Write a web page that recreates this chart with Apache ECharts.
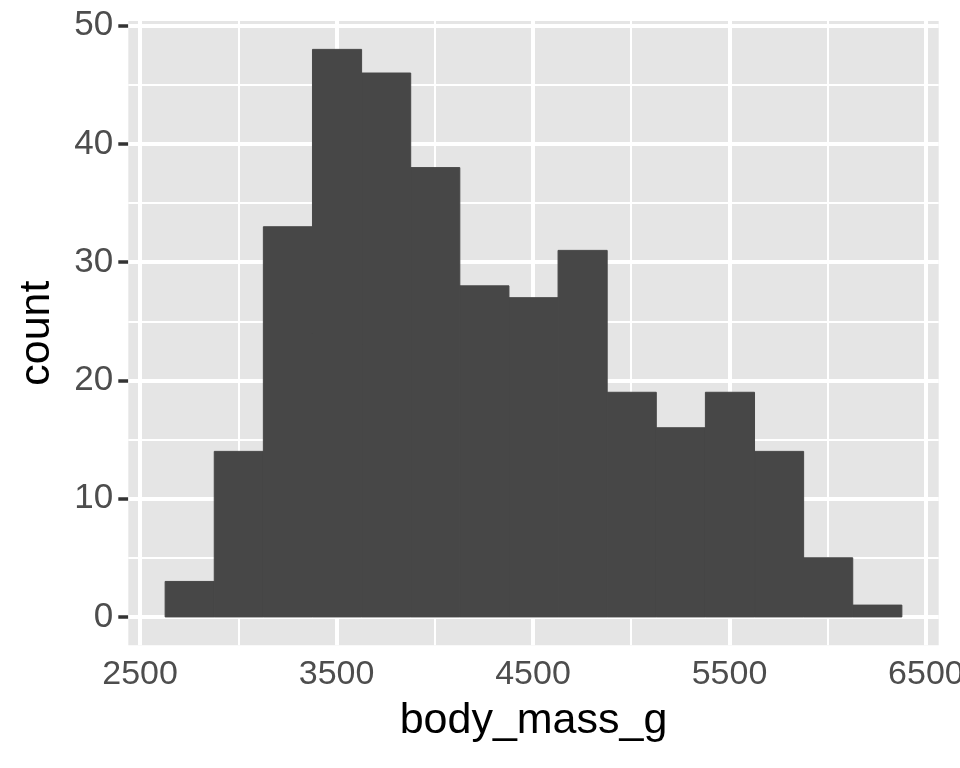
<!DOCTYPE html>
<html>
<head>
<meta charset="utf-8">
<script src="https://cdn.jsdelivr.net/npm/echarts@6/dist/echarts.min.js"></script>
<style>
html,body{margin:0;padding:0;background:#fff;}
#chart{width:960px;height:768px;}
</style>
</head>
<body>
<div id="chart"></div>
<script>
// Histogram bin edges (body_mass_g) and counts
var binEdges = [2627.5, 2877.5, 3127.5, 3377.5, 3627.5, 3877.5, 4127.5, 4377.5, 4627.5, 4877.5, 5127.5, 5377.5, 5627.5, 5877.5, 6127.5, 6377.5];
var counts = [3, 14, 33, 48, 46, 38, 28, 27, 31, 19, 16, 19, 14, 5, 1];
// Tick labels / gridlines
var xTicks = [2500, 3500, 4500, 5500, 6500];
var xMinor = [3000, 4000, 5000, 6000];
var yTicks = [0, 10, 20, 30, 40, 50];
var yMinor = [5, 15, 25, 35, 45];

var barData = counts.map(function (c, i) { return [binEdges[i], binEdges[i + 1], c]; });

var FONT = '"Liberation Sans", Arial, Helvetica, sans-serif';
var gridLines = [];
xMinor.forEach(function (v) { gridLines.push({ xAxis: v, lineStyle: { width: 2 } }); });
yMinor.forEach(function (v) { gridLines.push({ yAxis: v, lineStyle: { width: 2 } }); });
xTicks.forEach(function (v) { gridLines.push({ xAxis: v, lineStyle: { width: 4 } }); });
yTicks.forEach(function (v) { gridLines.push({ yAxis: v, lineStyle: { width: 4 } }); });

function plain(v) { return String(v); }

var chart = echarts.init(document.getElementById('chart'), null, { renderer: 'canvas' });
chart.setOption({
  animation: false,
  backgroundColor: '#ffffff',
  grid: {
    left: 128.3, right: 21.3, top: 21, bottom: 122.7,
    outerBoundsMode: 'none',
    containLabel: false,
    show: true, backgroundColor: '#E5E5E5', borderWidth: 0
  },
  xAxis: {
    type: 'value',
    min: 2440, max: 6565,
    name: 'body_mass_g',
    nameLocation: 'middle',
    nameGap: 54,
    nameTextStyle: { fontFamily: FONT, fontSize: 43, color: '#000000' },
    axisLine: { show: false },
    axisTick: { show: true, length: 10, customValues: xTicks, lineStyle: { color: '#333333', width: 3.5 } },
    axisLabel: { customValues: xTicks, formatter: plain, margin: 12, fontFamily: FONT, fontSize: 34, color: '#4D4D4D' },
    splitLine: { show: false }
  },
  yAxis: {
    type: 'value',
    min: -2.4, max: 50.4,
    name: 'count',
    nameLocation: 'middle',
    nameRotate: 90,
    nameGap: 70,
    nameTextStyle: { fontFamily: FONT, fontSize: 43, color: '#000000' },
    axisLine: { show: false },
    axisTick: { show: true, length: 10, customValues: yTicks, lineStyle: { color: '#333333', width: 3.5 } },
    axisLabel: { customValues: yTicks, formatter: plain, margin: 15, fontFamily: FONT, fontSize: 35, color: '#4D4D4D' },
    splitLine: { show: false }
  },
  series: [
    {
      type: 'line',
      data: [],
      silent: true,
      z: 1,
      markLine: {
        silent: true,
        symbol: ['none', 'none'],
        label: { show: false },
        lineStyle: { color: '#ffffff', type: 'solid' },
        z: 1,
        data: gridLines
      }
    },
    {
      type: 'custom',
      z: 10,
      data: barData,
      encode: { x: [0, 1], y: 2 },
      renderItem: function (params, api) {
        var p0 = api.coord([api.value(0), api.value(2)]);
        var p1 = api.coord([api.value(1), 0]);
        return {
          type: 'rect',
          shape: { x: p0[0], y: p0[1], width: p1[0] - p0[0], height: p1[1] - p0[1] },
          style: { fill: '#474747', stroke: '#474747', lineWidth: 1 }
        };
      }
    }
  ]
});
</script>
</body>
</html>
